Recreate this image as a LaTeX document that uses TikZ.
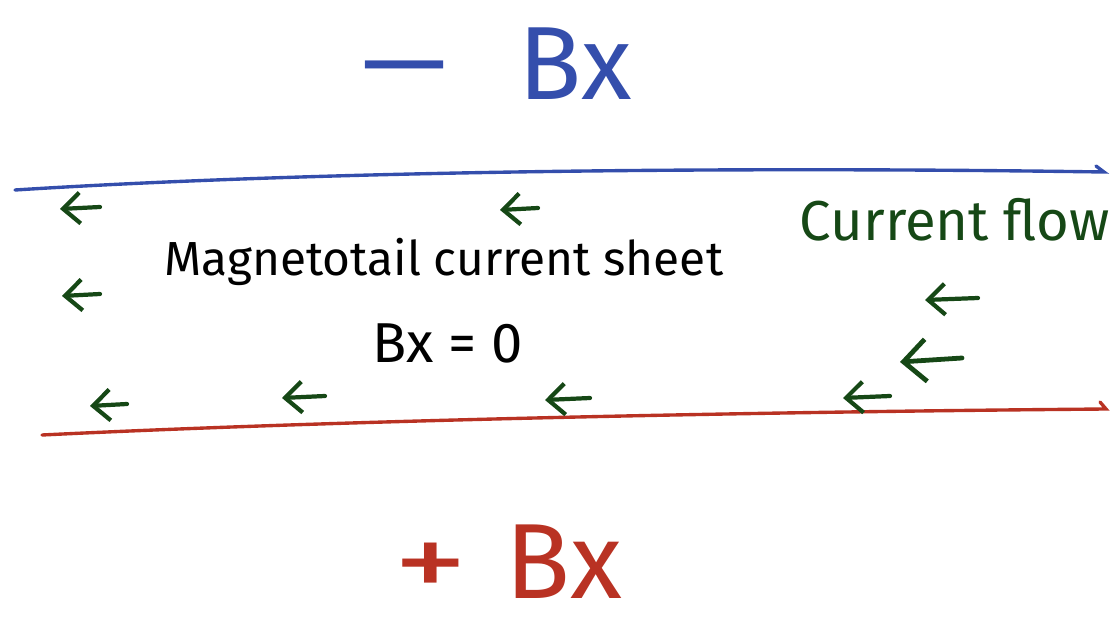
\documentclass[tikz,border=0pt]{standalone}
\usepackage{fontspec}
\setmainfont{Fira Sans}
\usetikzlibrary{arrows.meta}
\definecolor{fieldblue}{RGB}{52,78,172}
\definecolor{fieldred}{RGB}{185,50,35}
\definecolor{flowgreen}{RGB}{22,72,22}
\tikzset{
  flow/.style={flowgreen,line width=3pt,line cap=round,-{Straight Barb[length=12pt,width=22pt]}},
  bigflow/.style={flowgreen,line width=3.4pt,line cap=round,-{Straight Barb[length=16pt,width=30pt]}}
}
\begin{document}
\begin{tikzpicture}[x=0.025cm,y=-0.025cm]
    \useasboundingbox (0,0) rectangle (1112,636);
    % field labels
    \node[fieldblue,font=\fontsize{74}{80}\selectfont] (minusbx) at (492,64) {\scalebox{2}[1]{−}\hspace{0.6em}Bx};
    \node[fieldred,font=\fontsize{76}{82}\selectfont,inner sep=0pt] (plusbx) at (508,562) {\scalebox{1.4}[1]{+}\hspace{0.35em}Bx};
    % sheet boundaries
    \draw[fieldblue,line width=2.4pt,line cap=round] (15,190) .. controls (300,172) and (700,166) .. (1104,172) -- (1096,166);
    \draw[fieldred,line width=2.4pt,line cap=round] (42,435) .. controls (350,420) and (750,412) .. (1106,409) -- (1100,402);
    % texts
    \node[font=\fontsize{34}{36}\selectfont] (sheet) at (444,262) {Magnetotail current sheet};
    \node[font=\fontsize{40}{44}\selectfont] (bxzero) at (448,343) {Bx = 0};
    \node[flowgreen,font=\fontsize{40}{44}\selectfont] (flowlabel) at (955,220) {Current flow};
    % current arrows
    \foreach \x/\y/\l in {100/207/40,538/208/38,100/294/38,978/298/53,127/404/37,325/396/43,590/398/45,890/396/47}
    \draw[flow] (\x,\y) -- +(-\l,2);
    \draw[bigflow] (962,358) -- (900,362);
  \end{tikzpicture}
\end{document}
